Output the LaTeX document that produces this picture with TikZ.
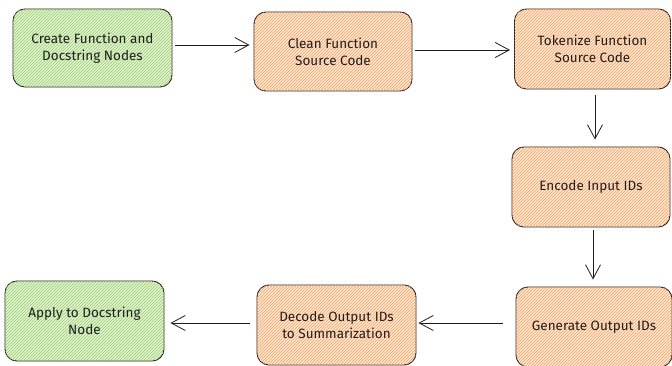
\documentclass[tikz,border=0pt]{standalone}
\usepackage{fontspec}
\setmainfont{Fira Sans}
\usetikzlibrary{patterns,arrows.meta}
\definecolor{gline}{RGB}{150,205,100}
\definecolor{gbg}{RGB}{228,243,214}
\definecolor{oline}{RGB}{250,160,95}
\definecolor{obg}{RGB}{255,232,212}
\definecolor{ink}{RGB}{30,30,30}
\tikzset{
  box/.style={draw=ink, line width=0.9pt, rounded corners=12pt, align=center,
    font=\fontsize{13.5}{17}\selectfont, text=ink, inner sep=0pt},
  gbox/.style={box, fill=gbg, postaction={pattern=north east lines, pattern color=gline}},
  obox/.style={box, fill=obg, postaction={pattern=north east lines, pattern color=oline}},
  conn/.style={draw=ink, line width=0.8pt, -{Straight Barb[length=14pt,width=15pt]}}
}
\begin{document}
\begin{tikzpicture}[x=1pt,y=-1pt]
\useasboundingbox (0,0) rectangle (672,366);
\node[gbox, minimum width=159pt, minimum height=78pt] (n1) at (92.5,48) {Create Function and\\Docstring Nodes};
\node[obox, minimum width=158pt, minimum height=79pt] (n2) at (333,51.5) {Clean Function\\Source Code};
\node[obox, minimum width=156pt, minimum height=80pt] (n3) at (592.5,49) {Tokenize Function\\Source Code};
\node[obox, minimum width=158pt, minimum height=80pt] (n4) at (591,187) {Encode Input IDs};
\node[obox, minimum width=156pt, minimum height=80pt] (n5) at (594,327) {Generate Output IDs};
\node[obox, minimum width=159pt, minimum height=80pt] (n6) at (336.5,325) {Decode Output IDs\\to Summarization};
\node[gbox, minimum width=159pt, minimum height=80pt] (n7) at (84.5,321) {Apply to Docstring\\Node};
\draw[conn] ([xshift=3pt,yshift=3pt]n1.east) -- ([xshift=-4pt,yshift=6.5pt]n2.west);
\draw[conn] ([xshift=3pt,yshift=1.5pt]n2.east) -- ([xshift=-4pt,yshift=-1pt]n3.west);
\draw[conn] ([xshift=2.5pt,yshift=-6pt]n3.south) -- ([xshift=4pt,yshift=7pt]n4.north);
\draw[conn] ([xshift=2pt,yshift=-3pt]n4.south) -- ([xshift=-1pt,yshift=7pt]n5.north);
\draw[conn] ([xshift=-13pt,yshift=4pt]n5.west) -- ([xshift=2pt,yshift=2pt]n6.east);
\draw[conn] ([xshift=-7pt,yshift=2pt]n6.west) -- ([xshift=6pt,yshift=-2pt]n7.east);
\end{tikzpicture}
\end{document}
